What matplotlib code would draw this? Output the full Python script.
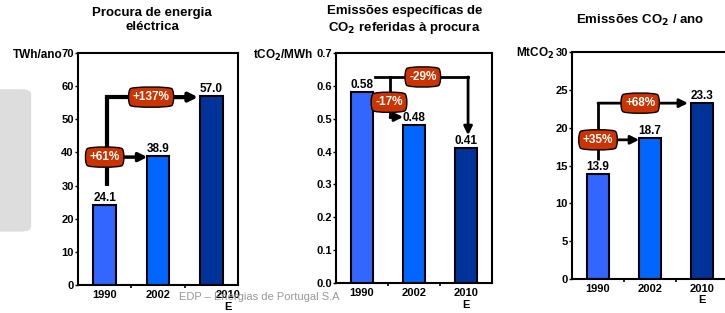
import matplotlib
matplotlib.use("Agg")
import matplotlib.pyplot as plt
from matplotlib.patches import FancyBboxPatch

plt.rcParams['font.family'] = ['Liberation Sans', 'DejaVu Sans']
plt.rcParams['font.weight'] = 'bold'

# dados
anos = ['1990', '2002', '2010']
procura = [24.1, 38.9, 57.0]
emissoes_esp = [0.58, 0.48, 0.41]
emissoes_ano = [13.9, 18.7, 23.3]

procura_txt = ['24.1', '38.9', '57.0']
esp_txt = ['0.58', '0.48', '0.41']
ano_txt = ['13.9', '18.7', '23.3']

cores = ['#3366FF', '#0066FF', '#003399']
vermelho = '#CC3300'

fig = plt.figure(figsize=(7.25, 3.13), dpi=100)

# caixa cinzenta à esquerda
caixa = FancyBboxPatch((-0.05, 0.26), 0.093, 0.455, boxstyle="round,pad=0,rounding_size=0.015",
                       transform=fig.transFigure, facecolor='#DDDDDD', edgecolor='none')
fig.patches.append(caixa)


def painel(pos, valores, textos, ymax, ystep, yfmt, off):
    ax = fig.add_axes(pos)
    x = range(len(valores))
    ax.bar(x, valores, width=0.42, color=cores, edgecolor='black', linewidth=1.5, zorder=2)
    for i, (v, t) in enumerate(zip(valores, textos)):
        ax.text(i, v + off, t, ha='center', va='bottom', fontsize=8.5, fontweight='bold')
    ax.set_xlim(-0.5, 2.5)
    ax.set_ylim(0, ymax)
    yt = [k * ystep for k in range(int(round(ymax / ystep)) + 1)]
    ax.set_yticks(yt)
    ax.set_yticklabels([yfmt.format(v) for v in yt], fontsize=8, fontweight='bold')
    ax.set_xticks([0.5, 1.5])
    ax.set_xticklabels([])
    ax.tick_params(axis='y', length=2, width=1, pad=1)
    ax.tick_params(axis='x', length=2, width=1.2)
    for s in ax.spines.values():
        s.set_linewidth(1.5)
    return ax


def etiquetas_x(ax, xs):
    for xi, lab in zip(xs, anos):
        ax.text(xi, -0.02, lab, transform=ax.get_xaxis_transform(), ha='center', va='top',
                fontsize=8, fontweight='bold')
    ax.text(xs[2], -0.072, 'E', transform=ax.get_xaxis_transform(), ha='center', va='top',
            fontsize=8, fontweight='bold')


def selo(ax, x, y, txt):
    ax.text(x, y, txt, ha='center', va='center', color='white', fontsize=8.5, fontweight='bold', zorder=6,
            bbox=dict(boxstyle='round4,pad=0.4', facecolor=vermelho, edgecolor='black', linewidth=1))


def seta(ax, x0, y0, x1, y1, lw):
    ax.annotate('', xy=(x1, y1), xytext=(x0, y0), zorder=4,
                arrowprops=dict(arrowstyle='-|>,head_length=0.5,head_width=0.25', color='black',
                                lw=lw, shrinkA=0, shrinkB=0))


# painel 1 - procura
ax1 = painel([0.1076, 0.0895, 0.2207, 0.741], procura, procura_txt, 70, 10, '{:.0f}', 0.3)
etiquetas_x(ax1, [0, 1, 2.31])
ax1.plot([0.04, 0.04], [30, 56.7], color='black', lw=3, zorder=3, solid_capstyle='butt')
ax1.plot([0.04, 1.0], [56.7, 56.7], color='black', lw=3, zorder=3)
seta(ax1, 0.9, 56.7, 1.75, 56.7, 3)
seta(ax1, 0.0, 38.6, 0.8, 38.6, 2.5)
selo(ax1, 0.0, 38.6, '+61%')
selo(ax1, 0.87, 56.7, '+137%')
fig.text(0.086, 0.823, 'TWh/ano', ha='right', va='center', fontsize=8.5, fontweight='bold')
fig.text(0.21, 0.935, 'Procura de energia\neléctrica', ha='center', va='center', fontsize=9.5,
         fontweight='bold', linespacing=1.25)

# painel 2 - emissões específicas
ax2 = painel([0.4634, 0.0958, 0.2152, 0.735], emissoes_esp, esp_txt, 0.7, 0.1, '{:.1f}', 0.003)
etiquetas_x(ax2, [0, 1, 2])
ax2.plot([0.25, 2.04], [0.627, 0.627], color='black', lw=2, zorder=3)
seta(ax2, 2.04, 0.627, 2.04, 0.45, 2)
ax2.plot([0.54, 0.54], [0.627, 0.505], color='black', lw=2, zorder=3)
seta(ax2, 0.54, 0.505, 0.79, 0.505, 2)
selo(ax2, 1.17, 0.627, '-29%')
selo(ax2, 0.52, 0.55, '-17%')
fig.text(0.432, 0.823, 'tCO$_2$/MWh', ha='right', va='center', fontsize=8.5, fontweight='bold')
fig.text(0.558, 0.935, 'Emissões específicas de\nCO$_2$ referidas à procura', ha='center', va='center',
         fontsize=9.5, fontweight='bold', linespacing=1.25)

# painel 3 - emissões por ano
ax3 = painel([0.789, 0.1086, 0.2152, 0.725], emissoes_ano, ano_txt, 30, 5, '{:.0f}', 0.1)
etiquetas_x(ax3, [0, 1, 2])
ax3.plot([0.0, 0.0], [15.7, 23.25], color='black', lw=2, zorder=3, solid_capstyle='butt')
seta(ax3, 0.0, 23.25, 1.73, 23.25, 2)
seta(ax3, 0.0, 18.4, 0.79, 18.4, 2)
selo(ax3, 0.81, 23.25, '+68%')
selo(ax3, 0.0, 18.4, '+35%')
fig.text(0.765, 0.83, 'MtCO$_2$', ha='right', va='center', fontsize=8.5, fontweight='bold')
fig.text(0.883, 0.935, 'Emissões CO$_2$ / ano', ha='center', va='center', fontsize=9.5, fontweight='bold')

# rodapé
fig.text(0.358, 0.05, 'EDP – Energias de Portugal S.A', ha='center', va='center', fontsize=8,
         color='#999999', fontweight='normal')

fig.savefig('out.png', dpi=100)
